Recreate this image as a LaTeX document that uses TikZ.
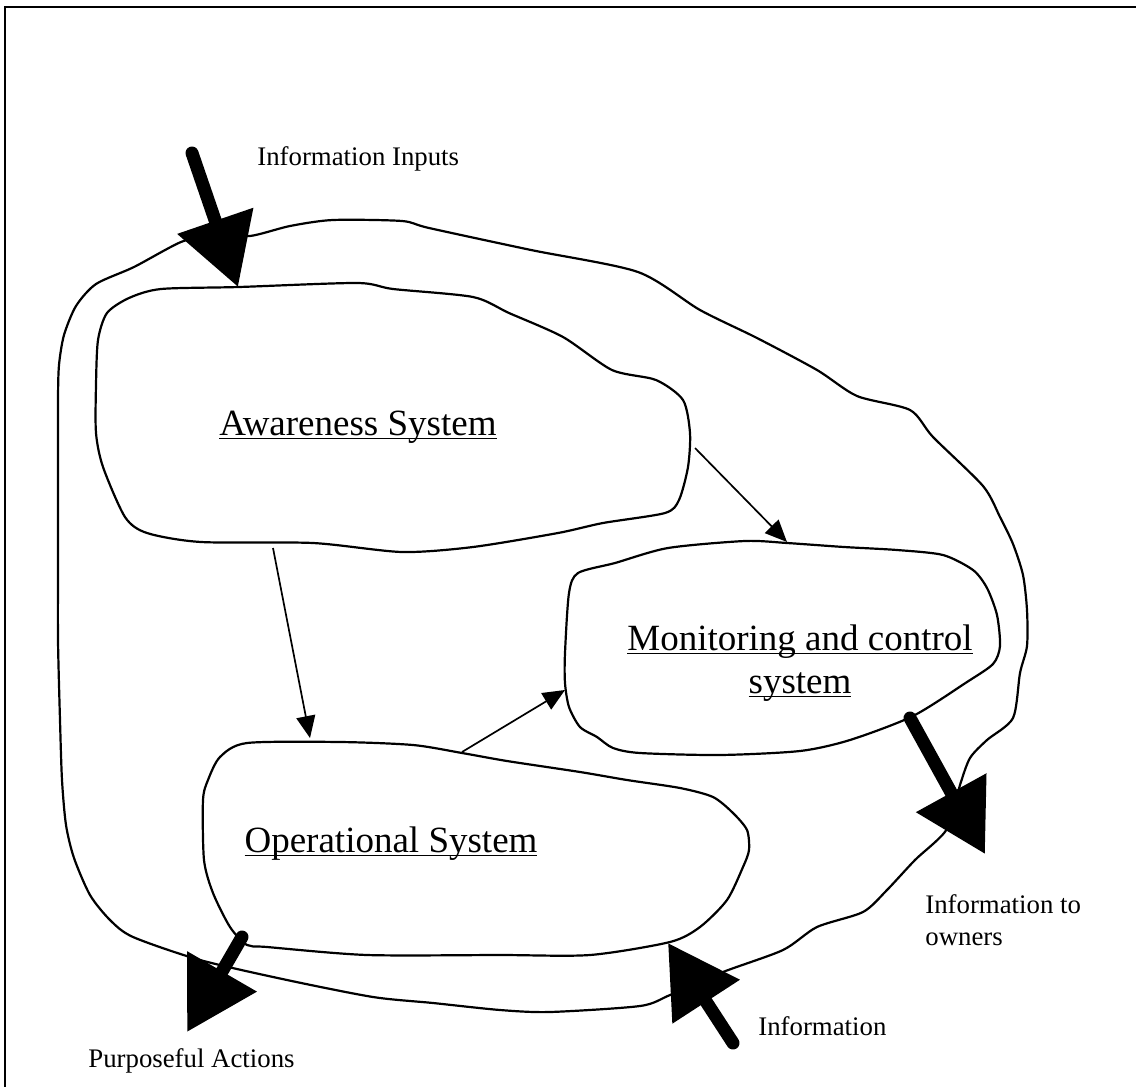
\documentclass[tikz,border=0pt]{standalone}
\usepackage{fontspec}
\setmainfont{Liberation Serif}
\usetikzlibrary{arrows.meta}

% underline at a fixed depth below the baseline
\newcommand\undl[1]{\setbox0\hbox{#1}\rlap{\rule[-2.2pt]{\wd0}{0.9pt}}\box0}

\begin{document}
\begin{tikzpicture}[x=0.5pt,y=-0.5pt,
  blob/.style={draw=black, line width=1.1pt, line join=round},
  thin/.style={draw=black, line width=0.85pt, -{Triangle[width=9.5pt,length=11pt]}},
  bigarrow/.style={draw=black, line width=6.5pt, line cap=round,
    -{Triangle[width=38.5pt,length=35pt]}},
  title/.style={font=\fontsize{18.5pt}{22pt}\selectfont, inner sep=0pt},
  lbl/.style={font=\fontsize{13.4pt}{16pt}\selectfont, inner sep=0pt}]

\useasboundingbox (0,0) rectangle (1136,1087);
\fill[white] (0,0) rectangle (1136,1087);

% frame
\draw[line width=1.2pt] (5,1087) -- (5,7) -- (1136,7);

% outer boundary of the whole system
\draw[blob] plot[smooth cycle, tension=0.45] coordinates {
  (58,640) (58,560) (58,480) (58,400) (59,365) (64,335) (76,306) (96,284)
  (134,267) (181,242) (215,234)
  (250,236) (290,226) (333,220) (402,221) (429,228) (531,250) (638,272)
  (700,310) (757,338) (817,370) (857,396) (910,410) (933,437) (983,486)
  (1000,517) (1013,544) (1023,575) (1027,610) (1027,646) (1020,673) (1013,718)
  (987,740) (970,758) (960,785) (947,829) (915,860) (887,890) (863,912)
  (817,927) (783,950) (723,972) (670,995) (640,1006) (550,1012) (500,1010)
  (433,1003) (373,997) (287,980) (200,960) (133,937) (110,920) (90,895)
  (74,858) (66,825) (62,780) (60,720)};

% awareness system
\draw[blob] plot[smooth cycle, tension=0.45] coordinates {
  (161,289) (239,287) (357,283) (393,289) (473,297) (509,313) (563,337)
  (612,370) (656,380) (683,400) (690,433) (688,467) (679,500) (665,513)
  (603,523) (558,533) (473,547) (402,552) (313,543) (201,542) (147,533)
  (125,517) (103,467) (96,433) (96,385) (98,340) (107,313) (129,298)};

% monitoring and control system
\draw[blob] plot[smooth cycle, tension=0.45] coordinates {
  (578,573) (615,563) (668,548) (745,541) (787,543) (844,547) (897,550)
  (943,555) (973,570) (987,588) (997,615) (1000,646) (993,664) (967,682)
  (913,716) (850,740) (800,751) (720,755) (640,753) (613,748) (597,737)
  (580,727) (569,707) (565,683) (565,653) (569,593)};

% operational system
\draw[blob] plot[smooth cycle, tension=0.45] coordinates {
  (247,743) (340,742) (413,745) (462,753) (507,761) (580,772) (627,780)
  (680,788) (713,797) (733,813) (747,830) (749,850) (743,867) (727,900)
  (700,927) (670,942) (590,955) (500,955) (367,955) (267,947) (247,945)
  (230,927) (213,893) (204,860) (203,800) (208,780) (220,757)};

% titles
\node[title, anchor=base] (aware) at (358,435) {\undl{Awareness System}};
\node[title, anchor=base] (monitor1) at (800,650) {\undl{Monitoring and control}};
\node[title, anchor=base] (monitor2) at (800,693) {\undl{system}};
\node[title, anchor=base] (oper) at (391,852) {\undl{Operational System}};

% flow labels
\node[lbl, anchor=base west] (inputs) at (257,165) {Information Inputs};
\node[lbl, anchor=base west] (owners1) at (925,913) {Information to};
\node[lbl, anchor=base west] (owners2) at (925,945) {owners};
\node[lbl, anchor=base west] (info) at (758,1035) {Information};
\node[lbl, anchor=base west] (actions) at (88,1067) {Purposeful Actions};

% end points of the connectors
\coordinate (aw-op) at (273,548);
\coordinate (op-in) at (310,738);
\coordinate (aw-mc) at (695,448);
\coordinate (mc-in) at (787,542);
\coordinate (op-mc) at (462,752);
\coordinate (mc-in2) at (565,690);

\coordinate (in-start) at (192,153);
\coordinate (in-end) at (238,287);
\coordinate (act-start) at (242,937);
\coordinate (act-end) at (187,1032);
\coordinate (own-start) at (910,718);
\coordinate (own-end) at (985,854);
\coordinate (info-start) at (733,1043);
\coordinate (info-end) at (668,943);

% internal flows
\draw[thin] (aw-op) -- (op-in);
\draw[thin] (aw-mc) -- (mc-in);
\draw[thin] (op-mc) -- (mc-in2);

% flows across the boundary
\draw[bigarrow] (in-start) -- (in-end);
\draw[bigarrow] (act-start) -- (act-end);
\draw[bigarrow] (own-start) -- (own-end);
\draw[bigarrow] (info-start) -- (info-end);

\end{tikzpicture}
\end{document}
